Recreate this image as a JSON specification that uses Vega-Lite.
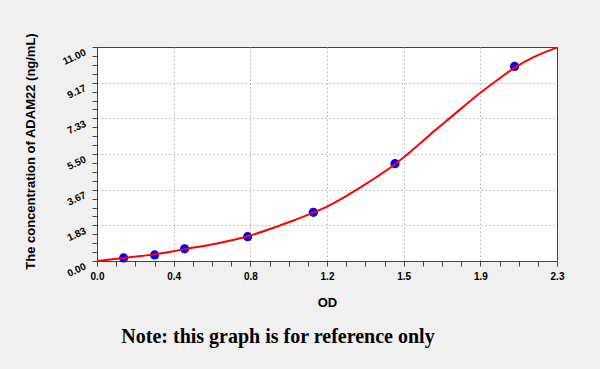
{
  "$schema": "https://vega.github.io/schema/vega-lite/v6.json",
  "width": 460,
  "height": 214,
  "autosize": "none",
  "padding": {"left": 97, "top": 47, "right": 43, "bottom": 108},
  "background": "#f0f0f0",
  "title": {
    "text": "Note: this graph is for reference only",
    "orient": "bottom",
    "anchor": "middle",
    "dx": -49,
    "offset": 18,
    "font": "Liberation Serif",
    "fontSize": 20,
    "fontWeight": "bold",
    "color": "#000000"
  },
  "datasets": {
    "curve": [
      {"od": 0, "conc": 0},
      {"od": 0.133, "conc": 0.16},
      {"od": 0.288, "conc": 0.34},
      {"od": 0.438, "conc": 0.61},
      {"od": 0.6, "conc": 0.9},
      {"od": 0.753, "conc": 1.27},
      {"od": 0.908, "conc": 1.8},
      {"od": 0.983, "conc": 2.08},
      {"od": 1.083, "conc": 2.5},
      {"od": 1.15, "conc": 2.8},
      {"od": 1.25, "conc": 3.36},
      {"od": 1.317, "conc": 3.78},
      {"od": 1.4, "conc": 4.33},
      {"od": 1.49, "conc": 4.97},
      {"od": 1.6, "conc": 5.9},
      {"od": 1.683, "conc": 6.65},
      {"od": 1.767, "conc": 7.37},
      {"od": 1.917, "conc": 8.65},
      {"od": 2.017, "conc": 9.42},
      {"od": 2.09, "conc": 9.95},
      {"od": 2.183, "conc": 10.48},
      {"od": 2.3, "conc": 10.97}
    ],
    "points": [
      {"od": 0.133, "conc": 0.156},
      {"od": 0.288, "conc": 0.313},
      {"od": 0.438, "conc": 0.625},
      {"od": 0.753, "conc": 1.25},
      {"od": 1.082, "conc": 2.5},
      {"od": 1.49, "conc": 5},
      {"od": 2.088, "conc": 10}
    ]
  },
  "config": {
    "view": {"stroke": "#444444", "strokeWidth": 1, "fill": "#ffffff"},
    "axis": {
      "labelFont": "Liberation Sans",
      "labelFontWeight": "bold",
      "labelFontSize": 10,
      "labelColor": "#000000",
      "titleFont": "Liberation Sans",
      "titleFontWeight": "bold",
      "titleFontSize": 13,
      "titleColor": "#000000",
      "domainColor": "#444444",
      "tickColor": "#444444",
      "tickSize": 5,
      "gridColor": "#b4b4b4",
      "gridDash": [1.5, 2.5],
      "labelOverlap": false,
      "labelFlush": false
    }
  },
  "layer": [
    {
      "data": {"name": "points"},
      "mark": {"type": "circle", "size": 85, "color": "#0000ff", "opacity": 1},
      "encoding": {
        "x": {
          "field": "od",
          "type": "quantitative",
          "title": "OD",
          "scale": {"domain": [0, 2.3], "nice": false, "zero": false},
          "axis": {
            "values": [0, 0.095833, 0.191667, 0.2875, 0.383333, 0.479167, 0.575, 0.670833, 0.766667, 0.8625, 0.958333, 1.054167, 1.15, 1.245833, 1.341667, 1.4375, 1.533333, 1.629167, 1.725, 1.820833, 1.916667, 2.0125, 2.108333, 2.204167, 2.3],
            "tickCount": 40,
            "labelExpr": "round(datum.value/0.0958333) % 4 == 0 ? format(datum.value + 0.0001, '.1f') : ''",
            "labelPadding": 5,
            "labelOverlap": false,
            "gridOpacity": {"condition": {"test": "round(datum.value/0.0958333) % 4 == 0 && datum.value > 0.01 && datum.value < 2.29", "value": 1}, "value": 0},
            "titleY": 41,
            "titleBaseline": "middle"
          }
        },
        "y": {
          "field": "conc",
          "type": "quantitative",
          "title": "The concentration of ADAM22 (ng/mL)",
          "scale": {"domain": [0, 11], "nice": false, "zero": false},
          "axis": {
            "values": [0, 0.458333, 0.916667, 1.375, 1.833333, 2.291667, 2.75, 3.208333, 3.666667, 4.125, 4.583333, 5.041667, 5.5, 5.958333, 6.416667, 6.875, 7.333333, 7.791667, 8.25, 8.708333, 9.166667, 9.625, 10.083333, 10.541667, 11],
            "tickCount": 40,
            "labelExpr": "round(datum.value/0.4583333) % 4 == 0 ? format(datum.value + 0.00001, '.2f') : ''",
            "labelAngle": -25,
            "labelAlign": "right",
            "labelBaseline": "top",
            "labelPadding": 9,
            "labelOverlap": false,
            "gridOpacity": {"condition": {"test": "round(datum.value/0.4583333) % 4 == 0 && datum.value > 0.01 && datum.value < 10.99", "value": 1}, "value": 0},
            "titleX": -67,
            "titleY": 104,
            "titleAngle": 270,
            "titleBaseline": "middle",
            "titleAlign": "center"
          }
        }
      }
    },
    {
      "data": {"name": "curve"},
      "mark": {"type": "line", "color": "#ff0000", "strokeWidth": 2, "interpolate": "monotone"},
      "encoding": {
        "x": {"field": "od", "type": "quantitative"},
        "y": {"field": "conc", "type": "quantitative"}
      }
    }
  ]
}
